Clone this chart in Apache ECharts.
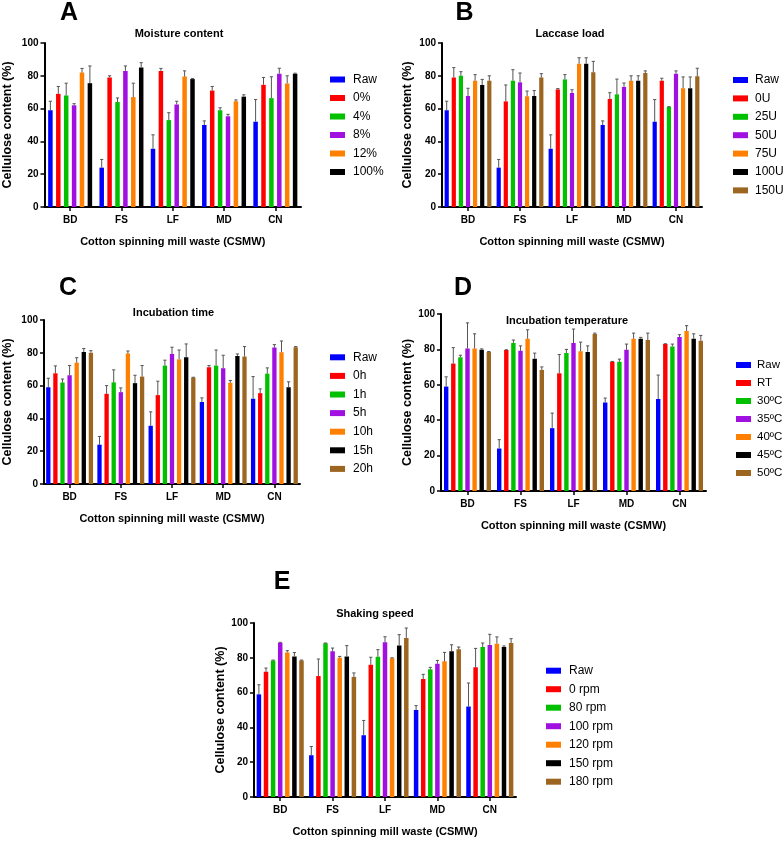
<!DOCTYPE html>
<html>
<head>
<meta charset="utf-8">
<script src="https://cdn.jsdelivr.net/npm/echarts@6/dist/echarts.min.js"></script>
<style>
html,body{margin:0;padding:0;background:#fff;}
#chart{width:784px;height:841px;}
</style>
</head>
<body>
<div id="chart"></div>
<script>
// ---------- DATA ----------
const categories = ['BD', 'FS', 'LF', 'MD', 'CN'];
const rawValues = [59, 24, 35.5, 50, 52];
const rawErrors = [5.5, 5, 8.5, 2.5, 13.5];

const moistureNames = ['Raw', '0%', '4%', '8%', '12%', '100%'];
const moistureValues = [
  rawValues,
  [69, 79, 83, 71, 74.5],
  [68, 64, 53, 59, 66.4],
  [62, 83, 62.5, 55.3, 81.3],
  [82, 67, 79.5, 64.5, 75.3],
  [75.5, 85, 78, 67.3, 81.3]
];
const moistureErrors = [
  rawErrors,
  [4.5, 1, 1.5, 2.5, 4.5],
  [7.5, 2.5, 4.5, 1.5, 13],
  [1, 3, 2, 1.2, 3.3],
  [2.5, 8.5, 3.5, 0.8, 4.7],
  [10.5, 3, 0.3, 1.1, 0.3]
];

const laccaseNames = ['Raw', '0U', '25U', '50U', '75U', '100U', '150U'];
const laccaseValues = [
  rawValues,
  [79, 64.4, 71.7, 65.9, 77],
  [80, 77, 77.8, 68.7, 61],
  [67.7, 76, 69.5, 73.2, 81.3],
  [77, 67.5, 87.4, 77, 72.4],
  [74.4, 67.7, 87.4, 77, 72.4],
  [77, 78.9, 82.1, 81.7, 79.7]
];
const laccaseErrors = [
  rawErrors,
  [6, 10, 0.5, 3.8, 1.5],
  [2.5, 6.7, 2.9, 9.3, 0.2],
  [4.7, 5.7, 2, 2.4, 1.7],
  [3.7, 3.2, 3.6, 3, 6.9],
  [3.4, 3.3, 3.6, 3, 6.9],
  [3, 2.4, 6.7, 1.3, 4.9]
];

const timeNames = ['Raw', '0h', '1h', '5h', '10h', '15h', '20h'];
const timeValues = [
  rawValues,
  [67.5, 55, 54.2, 71.2, 55.4],
  [61.9, 62, 72.2, 72.2, 67.3],
  [66.3, 56, 79.3, 70.6, 83.2],
  [74, 79.5, 76, 61.7, 80.3],
  [80.5, 61.5, 77.3, 78.1, 59],
  [80.1, 65.5, 64.9, 77.7, 83.4]
];
const timeErrors = [
  rawErrors,
  [4.5, 5, 8.5, 1, 2.6],
  [2.1, 7.6, 3.3, 9.5, 3.5],
  [5.9, 2.6, 4.1, 7.9, 1.8],
  [3, 1.6, 5.7, 1.4, 6.9],
  [2.1, 4.8, 8.1, 1.2, 3.3],
  [1.2, 6.7, 0.2, 6.1, 0.4]
];

const tempNames = ['Raw', 'RT', '30ºC', '35ºC', '40ºC', '45ºC', '50ºC'];
const tempValues = [
  rawValues,
  [72, 79.6, 66.5, 73, 83],
  [75.6, 83.6, 78, 73, 81.7],
  [80.5, 79.2, 83.6, 79.8, 87],
  [80.5, 86, 79, 86, 90.4],
  [79.8, 74.7, 78.6, 86, 86],
  [78.6, 68.4, 88.7, 85.3, 84.9]
];
const tempErrors = [
  rawErrors,
  [9, 0.2, 10.6, 0.2, 0.2],
  [1.1, 1.7, 2, 1.5, 1.3],
  [14.5, 2.8, 7.9, 3.2, 1.3],
  [8.3, 5.1, 5.1, 3.2, 3],
  [0.5, 3.2, 3.4, 0.8, 2.8],
  [0.2, 1.7, 0.5, 3.9, 3]
];

const speedNames = ['Raw', '0 rpm', '80 rpm', '100 rpm', '120 rpm', '150 rpm', '180 rpm'];
const speedValues = [
  rawValues,
  [72, 69.5, 76, 67.8, 74.5],
  [78.5, 88.3, 80.6, 73.4, 86.2],
  [88.7, 83.7, 88.9, 76.6, 87.4],
  [83.1, 80, 79.7, 78, 88.1],
  [80.8, 80.8, 87, 83.7, 86.2],
  [78.5, 69, 91.4, 84.9, 88.5]
];
const speedErrors = [
  rawErrors,
  [2.1, 9.8, 4.3, 2.7, 10.9],
  [0.2, 0.2, 4.1, 1.1, 2.3],
  [0.2, 1.9, 3.2, 1.9, 6.1],
  [1, 0.8, 0.3, 5.1, 3.9],
  [2.2, 6.2, 6.3, 3.8, 0.6],
  [0.2, 2.3, 5.7, 1.3, 2.5]
];

const yTicks = [0, 20, 40, 60, 80, 100];
const panelLetters = ['A', 'B', 'C', 'D', 'E'];
const panelTitles = ['Moisture content', 'Laccase load', 'Incubation time', 'Incubation temperature', 'Shaking speed'];
const xAxisTitle = 'Cotton spinning mill waste (CSMW)';
const yAxisTitle = 'Cellulose content (%)';

// ---------- STYLE / LAYOUT ----------
const colors = ['#0000ff', '#ff0000', '#00c000', '#a010e0', '#ff8000', '#000000', '#9c6520'];
const FONT = '"Liberation Sans", Arial, Helvetica, sans-serif';

const panels = [
  { names: moistureNames, values: moistureValues, errors: moistureErrors,
    grid: { left: 40, top: 43, width: 261, height: 164 }, bw: 4.5, gap: 3.4, yNameGap: 30.5,
    legend: { left: 330, top: 73.5, gap: 6.5, fs: 12, pad: 3 }, letter: [69, 13.5], title: [179, 34] },
  { names: laccaseNames, values: laccaseValues, errors: laccaseErrors,
    grid: { left: 442, top: 43, width: 260, height: 164 }, bw: 4.2, gap: 2.9, yNameGap: 28,
    legend: { left: 733, top: 74, gap: 6.4, fs: 12, pad: 2 }, letter: [464.5, 13], title: [570, 34.3] },
  { names: timeNames, values: timeValues, errors: timeErrors,
    grid: { left: 40, top: 320, width: 260, height: 164 }, bw: 4.3, gap: 2.8, yNameGap: 30,
    legend: { left: 330, top: 351.3, gap: 6.6, fs: 12, pad: 3 }, letter: [68, 288], title: [173.5, 312.7] },
  { names: tempNames, values: tempValues, errors: tempErrors,
    grid: { left: 441, top: 314, width: 265, height: 177 }, bw: 4.4, gap: 2.7, yNameGap: 25,
    legend: { left: 736, top: 359, gap: 6, fs: 11.5, pad: 1 }, letter: [463, 288], title: [567, 321] },
  { names: speedNames, values: speedValues, errors: speedErrors,
    grid: { left: 254, top: 623, width: 262, height: 174 }, bw: 4.5, gap: 2.6, yNameGap: 27,
    legend: { left: 546, top: 664.7, gap: 6.5, fs: 12, pad: 3 }, letter: [282, 582], title: [375, 614] }
];

const grids = [], xAxes = [], yAxes = [], series = [], legends = [], graphics = [];

panels.forEach((p, pi) => {
  grids.push(Object.assign({ containLabel: false }, p.grid));
  xAxes.push({
    type: 'category', gridIndex: pi, data: categories,
    axisLine: { show: true, lineStyle: { color: '#000', width: 2 } },
    axisTick: { show: true, alignWithLabel: true, length: 4, lineStyle: { color: '#000', width: 1.5 } },
    axisLabel: { color: '#000', fontWeight: 'bold', fontSize: 10, fontFamily: FONT, margin: 8 },
    name: xAxisTitle, nameLocation: 'middle', nameGap: 29.5,
    nameTextStyle: { color: '#000', fontWeight: 'bold', fontSize: 11, fontFamily: FONT }
  });
  yAxes.push({
    type: 'value', gridIndex: pi, min: yTicks[0], max: yTicks[yTicks.length - 1], interval: yTicks[1] - yTicks[0],
    axisLine: { show: true, lineStyle: { color: '#000', width: 2 } },
    axisTick: { show: true, length: 4, lineStyle: { color: '#000', width: 1.5 } },
    splitLine: { show: false },
    axisLabel: { color: '#000', fontWeight: 'bold', fontSize: 10, fontFamily: FONT, margin: 6 },
    name: yAxisTitle, nameLocation: 'middle', nameGap: p.yNameGap, nameRotate: 90,
    nameTextStyle: { color: '#000', fontWeight: 'bold', fontSize: 12.5, fontFamily: FONT }
  });
  const n = p.names.length;
  p.names.forEach((name, si) => {
    series.push({
      type: 'bar', name: name, xAxisIndex: pi, yAxisIndex: pi,
      data: p.values[si], barWidth: p.bw, barGap: (p.gap / p.bw * 100) + '%',
      itemStyle: { color: colors[si] }, z: 2
    });
  });
  const errData = [];
  p.names.forEach((name, si) => {
    categories.forEach((c, ci) => {
      errData.push([ci, p.values[si][ci], p.errors[si][ci], si]);
    });
  });
  const bw = p.bw, gap = p.gap;
  const total = n * bw + (n - 1) * gap;
  series.push({
    type: 'custom', name: 'err' + pi, xAxisIndex: pi, yAxisIndex: pi, z: 3,
    encode: { x: 0, y: 1 },
    data: errData,
    renderItem: function (params, api) {
      const ci = api.value(0), v = api.value(1), e = api.value(2), si = api.value(3);
      const base = api.coord([ci, v]);
      const top = api.coord([ci, v + e]);
      const x = base[0] - total / 2 + si * (bw + gap) + bw / 2;
      const style = { stroke: '#555', lineWidth: 1 };
      return {
        type: 'group',
        children: [
          { type: 'line', shape: { x1: x, y1: base[1], x2: x, y2: top[1] }, style: style },
          { type: 'line', shape: { x1: x - 1.6, y1: top[1], x2: x + 1.6, y2: top[1] }, style: style }
        ]
      };
    }
  });
  legends.push({
    orient: 'vertical', left: p.legend.left, top: p.legend.top, itemGap: p.legend.gap,
    itemWidth: 15, itemHeight: 6, icon: 'rect', padding: 0,
    data: p.names, selectedMode: false,
    textStyle: { color: '#000', fontSize: p.legend.fs, fontFamily: FONT, lineHeight: 12, padding: [0, 0, 0, p.legend.pad] }
  });
  graphics.push({
    type: 'text', x: p.letter[0], y: p.letter[1],
    style: { text: panelLetters[pi], font: 'bold 25px ' + FONT, fill: '#000', align: 'center', verticalAlign: 'middle' }
  });
  graphics.push({
    type: 'text', x: p.title[0], y: p.title[1],
    style: { text: panelTitles[pi], font: 'bold 11px ' + FONT, fill: '#000', align: 'center', verticalAlign: 'middle' }
  });
});

const chart = echarts.init(document.getElementById('chart'), null, { renderer: 'canvas' });
chart.setOption({
  animation: false,
  backgroundColor: '#fff',
  grid: grids, xAxis: xAxes, yAxis: yAxes, series: series, legend: legends,
  graphic: graphics
});
</script>
</body>
</html>
